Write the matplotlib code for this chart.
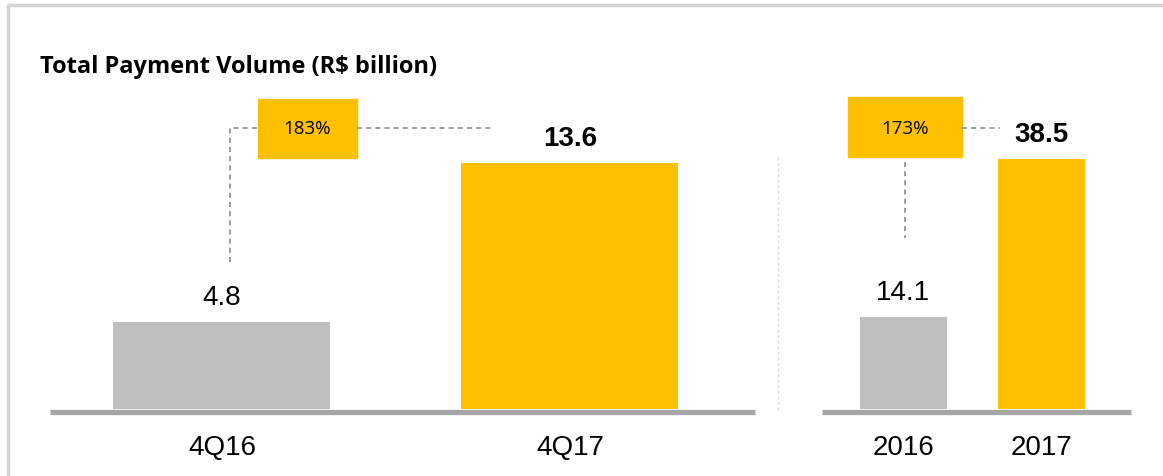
import matplotlib.pyplot as plt
from matplotlib.patches import Rectangle
from matplotlib.lines import Line2D

# data
quarter_labels = ["4Q16", "4Q17"]
quarter_values = [4.8, 13.6]
year_labels = ["2016", "2017"]
year_values = [14.1, 38.5]
quarter_growth = "183%"
year_growth = "173%"

W, H = 1163, 476
grey = "#bfbfbf"
yellow = "#ffc000"
base_grey = "#a6a6a6"

fig = plt.figure(figsize=(W / 100, H / 100), dpi=100)


def fx(x):
    return x / W


def fy(y):
    return 1 - y / H


def make_axes(x0, x1, ymax):
    ax = fig.add_axes([fx(x0), fy(409), fx(x1) - fx(x0), fy(90) - fy(409)])
    ax.set_ylim(0, ymax)
    for s in ax.spines.values():
        s.set_visible(False)
    ax.set_yticks([])
    ax.tick_params(axis="x", length=0, pad=18.5)
    return ax


def draw_panel(ax, labels, values, xlim, width):
    colors = [grey, yellow]
    xs = range(len(values))
    ax.bar(xs, values, width=width, color=colors, zorder=2)
    ax.set_xlim(*xlim)
    # baseline sits just under the bars
    ax.add_line(Line2D([0, 1], [-0.008, -0.008], transform=ax.transAxes,
                       color=base_grey, lw=3.8, clip_on=False, zorder=3,
                       solid_capstyle="butt"))
    ax.set_xticks(list(xs))
    ax.set_xticklabels(labels, fontsize=20, family="Liberation Sans")
    for i, v in enumerate(values):
        ax.annotate(f"{v:.1f}", (i, v), xytext=(0, 8), textcoords="offset points",
                    ha="center", va="bottom", fontsize=20, family="Liberation Sans",
                    fontweight="bold" if i == 1 else "normal")


ax1 = make_axes(50, 755, 319 / 18.1)
draw_panel(ax1, quarter_labels, quarter_values, (-0.494, 1.532), 0.624)

ax2 = make_axes(822, 1131, 319 / 6.5)
draw_panel(ax2, year_labels, year_values, (-0.585, 1.646), 0.628)

# frame
fig.add_artist(Line2D([fx(8), fx(8)], [fy(5), 0], color="#d4d4d4", lw=2.5,
                      solid_capstyle="butt"))
fig.add_artist(Line2D([fx(7), 1], [fy(5), fy(5)], color="#d4d4d4", lw=2.5,
                      solid_capstyle="butt"))

# separator
fig.add_artist(Line2D([fx(778), fx(778)], [fy(157), fy(412)], color="#d9d9d9",
                      lw=1, ls=(0, (2, 2))))

# title
fig.text(fx(40), fy(67), "Total Payment Volume (R$ billion)", fontsize=17,
         fontweight="bold", family="Open Sans", ha="left", va="center")

dash = dict(color="#8c8c8c", lw=1.2, ls=(0, (3, 2.5)))

# quarter growth box and connectors
fig.add_artist(Line2D([fx(230), fx(230), fx(258)], [fy(262), fy(128), fy(128)], **dash))
fig.add_artist(Line2D([fx(357), fx(492)], [fy(128), fy(128)], **dash))
fig.add_artist(Rectangle((fx(258), fy(158)), fx(357) - fx(258), fy(99) - fy(158),
                         transform=fig.transFigure, color=yellow))
fig.text(fx(307.5), fy(129), quarter_growth, fontsize=13.5, family="Open Sans",
         ha="center", va="center")

# year growth box and connectors
fig.add_artist(Line2D([fx(905), fx(905)], [fy(162), fy(238)], **dash))
fig.add_artist(Line2D([fx(962), fx(1000)], [fy(128), fy(128)], **dash))
fig.add_artist(Rectangle((fx(848), fy(157)), fx(962) - fx(848), fy(97) - fy(157),
                         transform=fig.transFigure, color=yellow))
fig.text(fx(905), fy(129), year_growth, fontsize=13.5, family="Open Sans",
         ha="center", va="center")

fig.savefig("out.png", dpi=100)
